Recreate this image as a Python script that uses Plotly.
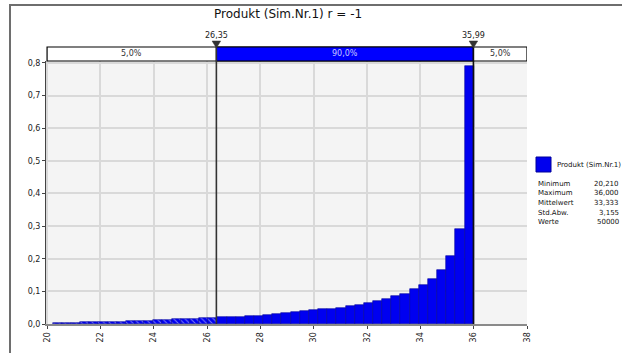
import plotly.graph_objects as go

# histogram data (density per bin)
x_min = 20.21
x_max = 36.0
density = [0.003, 0.004, 0.004, 0.005, 0.005, 0.006, 0.007, 0.007, 0.008, 0.009,
           0.010, 0.011, 0.013, 0.014, 0.015, 0.016, 0.017, 0.019, 0.021, 0.022,
           0.023, 0.025, 0.026, 0.028, 0.030, 0.033, 0.036, 0.040, 0.043, 0.046,
           0.047, 0.049, 0.055, 0.058, 0.064, 0.070, 0.076, 0.086, 0.092, 0.107,
           0.119, 0.138, 0.165, 0.208, 0.290, 0.790]

# percentile markers
p_low = 26.35
p_high = 35.99
p_labels = ["26,35", "35,99"]
seg_labels = ["5,0%", "90,0%", "5,0%"]

# stats table
stat_names = ["Minimum", "Maximum", "Mittelwert", "Std.Abw.", "Werte"]
stat_values = ["20,210", "36,000", "33,333", "3,155", "50000"]
series_name = "Produkt (Sim.Nr.1)"

x_tickvals = list(range(20, 40, 2))
x_range = [19.96, 38.0]

n = len(density)
w = (x_max - x_min) / n
centers = [x_min + w * (i + 0.5) for i in range(n)]
patterns = ["\\" if c < p_low else "" for c in centers]

FONT = "DejaVu Sans"
L, R, T, B = 46, 95, 61, 29
W, H = 622, 353
pw = W - L - R
ph = H - T - B


def px_x(p):
    return (p - L) / pw


def px_y(p):
    return (H - B - p) / ph


fig = go.Figure()
fig.add_trace(go.Bar(
    x=centers, y=density, width=w,
    marker=dict(color="#0000f0", line=dict(color="#00009a", width=0.6),
                pattern=dict(shape=patterns, fgcolor="white", size=4,
                             solidity=0.25, fillmode="overlay")),
    showlegend=False, hoverinfo="skip",
))

shapes = []
box_bot = 1.0
box_top = px_y(47)
# percentile box
shapes.append(dict(type="rect", xref="x", yref="paper", x0=x_range[0] + 0.04, x1=x_range[1],
                   y0=box_bot, y1=box_top, fillcolor="white", line=dict(color="black", width=1.2)))
shapes.append(dict(type="rect", xref="x", yref="paper", x0=p_low, x1=p_high,
                   y0=box_bot, y1=box_top, fillcolor="#0000ff", line=dict(color="black", width=1.2)))
# vertical marker lines + triangles
for xv, col in [(p_low, "#333333"), (p_high, "#111111")]:
    shapes.append(dict(type="line", xref="x", yref="paper", x0=xv, x1=xv,
                       y0=0, y1=box_top, line=dict(color=col, width=1.6)))
    tw = 0.16
    shapes.append(dict(type="path", xref="x", yref="paper",
                       path=f"M {xv - tw} {px_y(41)} L {xv + tw} {px_y(41)} L {xv} {px_y(48)} Z",
                       fillcolor="#333333", line=dict(color="#333333", width=0.5)))
# outer gray frame
shapes.append(dict(type="rect", xref="paper", yref="paper", x0=px_x(10), x1=px_x(640),
                   y0=px_y(380), y1=px_y(5), line=dict(color="#6e6e6e", width=2)))
# legend square
shapes.append(dict(type="rect", xref="paper", yref="paper", x0=px_x(536), x1=px_x(551),
                   y0=px_y(172), y1=px_y(157), fillcolor="#0000ee",
                   line=dict(color="#00009a", width=1)))


def note(text, x, y, xref="paper", xanchor="center", size=8, color="#222"):
    return dict(text=text, x=x, y=y, xref=xref, yref="paper", xanchor=xanchor,
                yanchor="middle", showarrow=False,
                font=dict(family=FONT, size=size, color=color))


ann = [note("Produkt (Sim.Nr.1) r = -1", px_x(288), px_y(14), size=12, color="#111")]
for xv, lab in zip([p_low, p_high], p_labels):
    ann.append(note(lab, xv, px_y(35), xref="x"))
seg_x = [(x_range[0] + p_low) / 2, (p_low + p_high) / 2, (p_high + x_range[1]) / 2]
seg_col = ["#333", "#c8c8ff", "#333"]
for xv, lab, c in zip(seg_x, seg_labels, seg_col):
    ann.append(note(lab, xv, (box_bot + box_top) / 2, xref="x", color=c))
ann.append(note(series_name, px_x(555), px_y(165), xanchor="left", size=7, color="#111"))
for i, (nm, val) in enumerate(zip(stat_names, stat_values)):
    yy = px_y(184 + i * 9.5)
    ann.append(note(nm, px_x(536), yy, xanchor="left", size=7, color="#111"))
    ann.append(note(val, px_x(621), yy, xanchor="right", size=7, color="#111"))

fig.update_layout(
    width=W, height=H,
    margin=dict(l=L, r=R, t=T, b=B),
    paper_bgcolor="white", plot_bgcolor="#f4f4f4",
    separators=",.",
    bargap=0,
    shapes=shapes, annotations=ann,
    font=dict(family=FONT, size=8, color="#222"),
)
fig.update_xaxes(range=x_range, tickvals=x_tickvals, tickangle=-90,
                 showgrid=True, gridcolor="#d9d9d9", gridwidth=1.5,
                 showline=True, linecolor="#8a8a8a", linewidth=2,
                 ticks="outside", ticklen=3, tickcolor="#444", zeroline=False,
                 tickfont=dict(family=FONT, size=8))
fig.update_yaxes(range=[0, 0.806], dtick=0.1, tickformat=".1f",
                 showgrid=True, gridcolor="#d9d9d9", gridwidth=1.5,
                 showline=True, linecolor="#444", linewidth=1,
                 ticks="outside", ticklen=3, tickcolor="#444", zeroline=False,
                 tickfont=dict(family=FONT, size=8))

# drop the default page margin so the figure sits at the window's corner
fig.write_html("out.html", config={"displayModeBar": False},
               post_script="document.body.style.margin='0';")
